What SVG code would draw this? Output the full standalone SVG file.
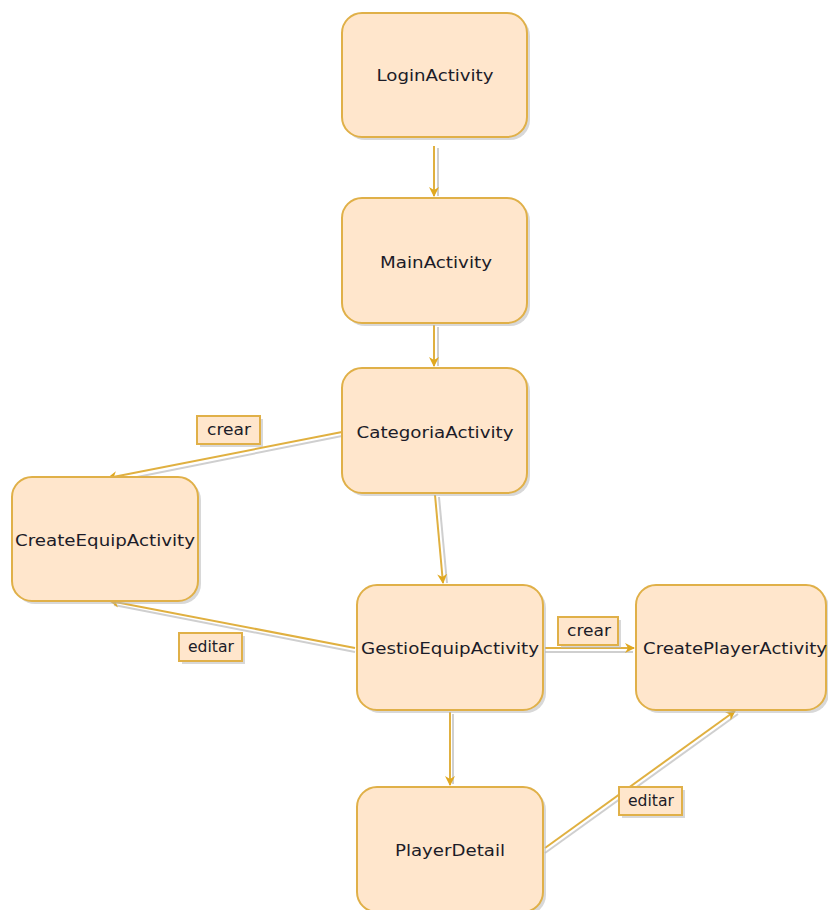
<svg xmlns="http://www.w3.org/2000/svg" width="828" height="910" viewBox="0 0 828 910">
  <style>
    .node rect.box { fill: #ffe6cc; stroke: #e0b048; stroke-width: 2; }
    .node rect.shadow { fill: #b8b8b8; opacity: 0.55; }
    .node text { font-family: "DejaVu Sans", "Noto Sans", sans-serif; font-size: 16px; fill: #1c1c28; text-anchor: middle; dominant-baseline: central; }
    .edge { stroke: #e0b040; stroke-width: 2; fill: none; marker-end: url(#arrow); }
    .edge-shadow { stroke: #cfcfcf; stroke-width: 2; fill: none; }
    .label rect.box { fill: #ffe6cc; stroke: #e0b048; stroke-width: 2; }
    .label rect.shadow { fill: #b8b8b8; opacity: 0.55; }
    .label text { font-family: "DejaVu Sans", "Liberation Sans", sans-serif; font-size: 15px; fill: #1c1c28; text-anchor: middle; dominant-baseline: central; }
  </style>
  <defs>
    <marker id="arrow" viewBox="0 0 10 10" refX="9" refY="5" markerWidth="5" markerHeight="5" orient="auto" markerUnits="strokeWidth">
      <path d="M0,0 L10,5 L0,10 L3,5 Z" fill="#e0a820"/>
    </marker>
  </defs>
  <rect width="828" height="910" fill="#ffffff"/>

  <!-- connectors -->
  <g id="connectors">
    <g class="shadows">
      <line class="edge-shadow" x1="438" y1="148" x2="438" y2="196"/>
      <line class="edge-shadow" x1="438" y1="327" x2="438" y2="366"/>
      <line class="edge-shadow" x1="342" y1="436" x2="112" y2="482"/>
      <line class="edge-shadow" x1="439" y1="497" x2="447" y2="583"/>
      <line class="edge-shadow" x1="355" y1="652" x2="114" y2="605"/>
      <line class="edge-shadow" x1="545" y1="652" x2="633" y2="652"/>
      <line class="edge-shadow" x1="453" y1="714" x2="453" y2="784"/>
      <line class="edge-shadow" x1="545" y1="853" x2="738" y2="714"/>
    </g>
    <line class="edge" x1="434" y1="146" x2="434" y2="196"/>
    <line class="edge" x1="434" y1="325" x2="434" y2="366"/>
    <line class="edge" x1="342" y1="432" x2="108" y2="478"/>
    <line class="edge" x1="435" y1="495" x2="443" y2="583"/>
    <line class="edge" x1="355" y1="648" x2="110" y2="601"/>
    <line class="edge" x1="545" y1="648" x2="634" y2="648"/>
    <line class="edge" x1="450" y1="712" x2="450" y2="785"/>
    <line class="edge" x1="545" y1="848" x2="735" y2="711"/>
  </g>

  <!-- nodes -->
  <g id="LoginActivity" class="node">
    <rect class="shadow" x="345" y="16" width="185" height="124" rx="20"/>
    <rect class="box" x="342" y="13" width="185" height="124" rx="20"/>
    <text x="435" y="75" textLength="117" lengthAdjust="spacingAndGlyphs">LoginActivity</text>
  </g>
  <g id="MainActivity" class="node">
    <rect class="shadow" x="345" y="201" width="185" height="125" rx="20"/>
    <rect class="box" x="342" y="198" width="185" height="125" rx="20"/>
    <text x="436" y="262" textLength="112" lengthAdjust="spacingAndGlyphs">MainActivity</text>
  </g>
  <g id="CategoriaActivity" class="node">
    <rect class="shadow" x="345" y="371" width="185" height="125" rx="20"/>
    <rect class="box" x="342" y="368" width="185" height="125" rx="20"/>
    <text x="435" y="432" textLength="157" lengthAdjust="spacingAndGlyphs">CategoriaActivity</text>
  </g>
  <g id="CreateEquipActivity" class="node">
    <rect class="shadow" x="15" y="480" width="186" height="124" rx="20"/>
    <rect class="box" x="12" y="477" width="186" height="124" rx="20"/>
    <text x="105" y="540" textLength="180" lengthAdjust="spacingAndGlyphs">CreateEquipActivity</text>
  </g>
  <g id="GestioEquipActivity" class="node">
    <rect class="shadow" x="360" y="588" width="186" height="125" rx="20"/>
    <rect class="box" x="357" y="585" width="186" height="125" rx="20"/>
    <text x="450" y="648" textLength="178" lengthAdjust="spacingAndGlyphs">GestioEquipActivity</text>
  </g>
  <g id="CreatePlayerActivity" class="node">
    <rect class="shadow" x="639" y="588" width="190" height="125" rx="20"/>
    <rect class="box" x="636" y="585" width="190" height="125" rx="20"/>
    <text x="735" y="648" textLength="184" lengthAdjust="spacingAndGlyphs">CreatePlayerActivity</text>
  </g>
  <g id="PlayerDetail" class="node">
    <rect class="shadow" x="360" y="790" width="186" height="125" rx="20"/>
    <rect class="box" x="357" y="787" width="186" height="125" rx="20"/>
    <text x="450" y="850" textLength="110" lengthAdjust="spacingAndGlyphs">PlayerDetail</text>
  </g>

  <!-- edge labels -->
  <g id="label-crear-equip" class="label">
    <rect class="shadow" x="200" y="419" width="63" height="28"/>
    <rect class="box" x="197" y="416" width="63" height="28"/>
    <text x="229" y="430" textLength="44" lengthAdjust="spacingAndGlyphs">crear</text>
  </g>
  <g id="label-editar-equip" class="label">
    <rect class="shadow" x="182" y="636" width="63" height="28"/>
    <rect class="box" x="179" y="633" width="63" height="28"/>
    <text x="211" y="647" textLength="46" lengthAdjust="spacingAndGlyphs">editar</text>
  </g>
  <g id="label-crear-player" class="label">
    <rect class="shadow" x="561" y="620" width="60" height="28"/>
    <rect class="box" x="558" y="617" width="60" height="28"/>
    <text x="589" y="631" textLength="44" lengthAdjust="spacingAndGlyphs">crear</text>
  </g>
  <g id="label-editar-player" class="label">
    <rect class="shadow" x="622" y="790" width="63" height="28"/>
    <rect class="box" x="619" y="787" width="63" height="28"/>
    <text x="651" y="801" textLength="46" lengthAdjust="spacingAndGlyphs">editar</text>
  </g>
</svg>
